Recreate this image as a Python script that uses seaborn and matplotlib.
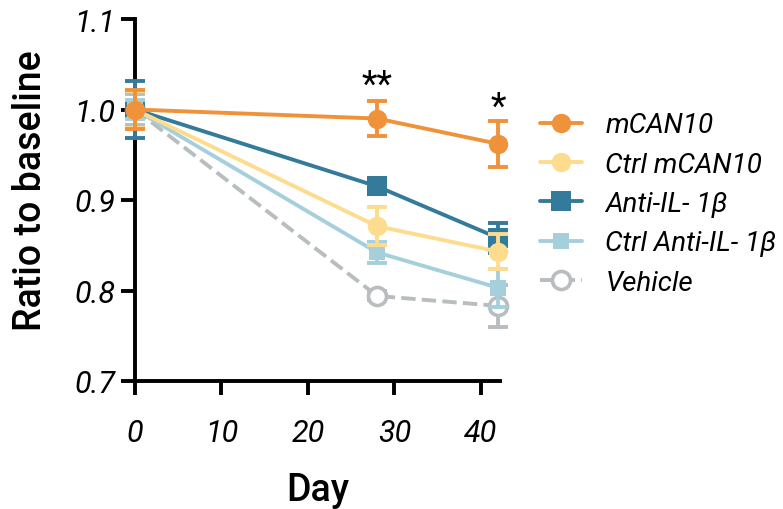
import seaborn as sns
import matplotlib.pyplot as plt
import pandas as pd
from matplotlib.lines import Line2D

# datos
days = [0, 28, 42]
series_names = ['mCAN10', 'Ctrl mCAN10', 'Anti-IL- 1β', 'Ctrl Anti-IL- 1β', 'Vehicle']
mcan10 = [1.0, 0.990, 0.962]
mcan10_err = [0.022, 0.019, 0.025]
ctrl_mcan10 = [1.0, 0.871, 0.843]
ctrl_mcan10_err = [0.020, 0.021, 0.019]
anti_il1b = [1.0, 0.915, 0.858]
anti_il1b_err = [0.031, 0.008, 0.017]
ctrl_anti_il1b = [1.0, 0.842, 0.803]
ctrl_anti_il1b_err = [0.010, 0.012, 0.021]
vehicle = [1.0, 0.794, 0.783]
vehicle_err = [0.017, 0.005, 0.023]

yticks = [0.7, 0.8, 0.9, 1.0, 1.1]
ytick_labels = ['0.7', '0.8', '0.9', '1.0', '1.1']
xticks = [0, 10, 20, 30, 40]

sns.set_style('ticks')
plt.rcParams['font.family'] = ['Roboto', 'DejaVu Sans']
plt.rcParams['text.color'] = 'black'
plt.rcParams['xtick.color'] = 'black'
plt.rcParams['ytick.color'] = 'black'
plt.rcParams['axes.labelcolor'] = 'black'

colors = ['#F0923A', '#FDDC8E', '#347A9A', '#A6CFDC', '#B8BDBF']
markers = ['o', 'o', 's', 's', 'o']
styles = ['-', '-', '-', '-', '--']
msizes = [14, 14, 14, 12, 13]
values = [mcan10, ctrl_mcan10, anti_il1b, ctrl_anti_il1b, vehicle]
errors = [mcan10_err, ctrl_mcan10_err, anti_il1b_err, ctrl_anti_il1b_err, vehicle_err]

fig = plt.figure(figsize=(7.83, 5.10), dpi=100)
ax = fig.add_axes([135 / 783, 1 - 382 / 510, 365 / 783, 362 / 510])

order = [4, 2, 3, 1, 0]
for z, i in enumerate(order):
    df = pd.DataFrame({'Day': days, 'Ratio': values[i]})
    mfc = 'white' if i == 4 else colors[i]
    ax.errorbar(df['Day'], df['Ratio'], yerr=errors[i], fmt='none', ecolor=colors[i],
                elinewidth=2.8, capsize=7, capthick=2.8, clip_on=False, zorder=2 + z)
    sns.lineplot(data=df, x='Day', y='Ratio', ax=ax, color=colors[i], linestyle=styles[i],
                 linewidth=2.8, marker=markers[i], markersize=msizes[i], markerfacecolor=mfc,
                 markeredgecolor=colors[i], markeredgewidth=2.6 if i == 4 else 0,
                 clip_on=False, zorder=2.5 + z, errorbar=None)

ax.set_xlim(0, 42.2)
ax.set_ylim(0.7, 1.1)
ax.set_xticks(xticks)
ax.set_xticklabels([str(t) for t in xticks], fontsize=22, style='italic')
ax.set_yticks(yticks)
ax.set_yticklabels(ytick_labels, fontsize=22, style='italic')
ax.tick_params(axis='both', length=10, width=2.8, color='black')
ax.tick_params(axis='x', pad=17)
ax.tick_params(axis='y', pad=4)
for s in ['left', 'bottom']:
    ax.spines[s].set_linewidth(2.8)
    ax.spines[s].set_color('black')
sns.despine(ax=ax)

ax.set_xlabel('Day', fontsize=27, fontweight='medium')
ax.set_ylabel('Ratio to baseline', fontsize=27, fontweight='medium')
ax.xaxis.set_label_coords(0.5, -0.25)
ax.yaxis.set_label_coords(-0.235, 0.53)

ax.text(28, 1.027, '**', ha='center', va='center', fontsize=26)
ax.text(42, 1.003, '*', ha='center', va='center', fontsize=26)

handles = []
for i in range(5):
    mfc = 'white' if i == 4 else colors[i]
    handles.append(Line2D([0], [0], color=colors[i], linestyle=styles[i], linewidth=2.8,
                          marker=markers[i], markersize=msizes[i], markerfacecolor=mfc,
                          markeredgecolor=colors[i], markeredgewidth=2.6 if i == 4 else 0))
leg = fig.legend(handles, series_names, loc='center left',
                 bbox_to_anchor=(540 / 783, 1 - 205 / 510),
                 frameon=False, prop={'size': 20, 'style': 'italic'},
                 borderaxespad=0, borderpad=0,
                 handlelength=1.5, labelspacing=0.48, handletextpad=0.85)

fig.savefig('out.png', dpi=100)
